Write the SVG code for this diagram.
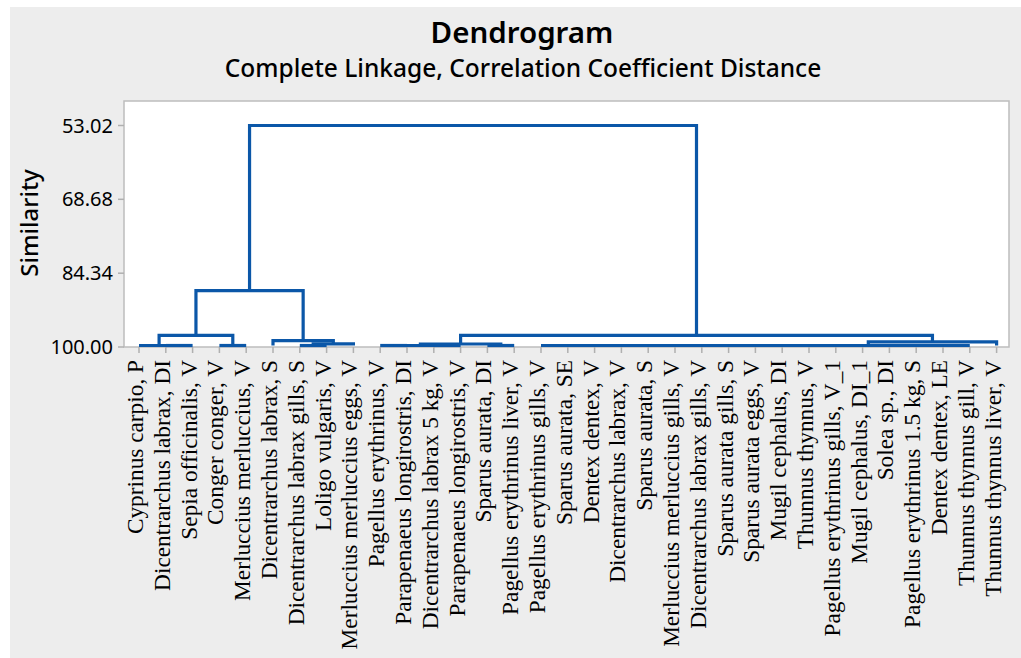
<svg xmlns="http://www.w3.org/2000/svg" width="1021" height="658" viewBox="0 0 1021 658">
<defs>
<style>
.bg{fill:#EDEDED}
.plot{fill:#FFFFFF;stroke:#BDBDBD;stroke-width:1.5}
.tick{stroke:#B0B0B0;stroke-width:1.5}
.den{fill:none;stroke:#0B57A8;stroke-width:3.2;stroke-linejoin:miter;stroke-linecap:butt}
.ttl{font-family:"Noto Sans","Open Sans",sans-serif;font-weight:600;font-size:29.5px;fill:#000;text-anchor:middle}
.sub{font-family:"Noto Sans","Open Sans",sans-serif;font-weight:500;font-size:24.5px;fill:#000;text-anchor:middle}
.yl{font-family:"Noto Sans","Open Sans",sans-serif;font-size:20px;fill:#000;text-anchor:end}
.yt{font-family:"Noto Sans","Open Sans",sans-serif;font-size:24px;font-weight:500;fill:#000;text-anchor:middle}
.lf{font-family:"Liberation Serif","Times New Roman",serif;font-size:23.3px;fill:#000;text-anchor:end}
</style>
</defs>
<rect class="bg" x="10" y="7" width="1011" height="651"/>
<g id="title">
<text class="ttl" x="522" y="43">Dendrogram</text>
<text class="sub" x="523" y="77">Complete Linkage, Correlation Coefficient Distance</text>
</g>
<g id="plot-area">
<rect class="plot" x="124" y="101" width="885" height="246"/>
</g>
<g id="y-axis">
<line class="tick" x1="118" y1="125.5" x2="124" y2="125.5"/>
<line class="tick" x1="118" y1="199.3" x2="124" y2="199.3"/>
<line class="tick" x1="118" y1="273.2" x2="124" y2="273.2"/>
<line class="tick" x1="118" y1="347" x2="124" y2="347"/>
<text class="yl" x="113" y="132.5">53.02</text>
<text class="yl" x="113" y="206.3">68.68</text>
<text class="yl" x="113" y="280.2">84.34</text>
<text class="yl" x="113" y="354">100.00</text>
<text class="yt" transform="translate(37.5,223) rotate(-90)">Similarity</text>
</g>
<g id="x-ticks">
<path class="tick" d="M139,347V353M165.8,347V353M192.6,347V353M219.4,347V353M246.2,347V353M273,347V353M299.8,347V353M326.6,347V353M353.4,347V353M380.2,347V353M407,347V353M433.8,347V353M460.6,347V353M487.4,347V353M514.2,347V353M541,347V353M567.8,347V353M594.6,347V353M621.4,347V353M648.2,347V353M675,347V353M701.8,347V353M728.6,347V353M755.4,347V353M782.2,347V353M809,347V353M835.8,347V353M862.6,347V353M889.4,347V353M916.2,347V353M943,347V353M969.8,347V353M996.6,347V353"/>
</g>
<g id="connectors">
<path class="den" d="M165.8,345.5H192.6"/>
<path class="den" d="M139,345.5H179.2"/>
<path class="den" d="M219.4,345.5H246.2"/>
<path class="den" d="M159.1,345.5V335.3H232.8V345.5"/>
<path class="den" d="M299.8,345.5H326.6"/>
<path class="den" d="M313.2,345.5V343.8H353.4V345.5"/>
<path class="den" d="M273,345.5V340.7H333.3V343.8"/>
<path class="den" d="M195.95,335.3V290.7H303.15V340.7"/>
<path class="den" d="M380.2,345.5H407"/>
<path class="den" d="M433.8,345.5H460.6"/>
<path class="den" d="M393.6,345.5H447.2"/>
<path class="den" d="M487.4,345.5H514.2"/>
<path class="den" d="M420.4,345.5V344H500.8V345.5"/>
<path class="den" d="M541,345.5H969.8"/>
<path class="den" d="M868.3,345.5V341.8H996.6V345.5"/>
<path class="den" d="M460.6,344V335.3H932.45V341.8"/>
<path class="den" d="M249.55,290.7V125.5H696.5V335.3"/>
</g>
<g id="leaf-labels">
<g id="leaf-1"><text class="lf" transform="translate(143,360) rotate(-90)">Cyprinus carpio,  P</text></g>
<g id="leaf-2"><text class="lf" transform="translate(169.8,360) rotate(-90)">Dicentrarchus labrax, DI</text></g>
<g id="leaf-3"><text class="lf" transform="translate(196.6,360) rotate(-90)">Sepia officinalis, V</text></g>
<g id="leaf-4"><text class="lf" transform="translate(223.4,360) rotate(-90)">Conger conger, V</text></g>
<g id="leaf-5"><text class="lf" transform="translate(250.2,360) rotate(-90)">Merluccius merluccius, V</text></g>
<g id="leaf-6"><text class="lf" transform="translate(277,360) rotate(-90)">Dicentrarchus labrax, S</text></g>
<g id="leaf-7"><text class="lf" transform="translate(303.8,360) rotate(-90)">Dicentrarchus labrax gills, S</text></g>
<g id="leaf-8"><text class="lf" transform="translate(330.6,360) rotate(-90)">Loligo vulgaris, V</text></g>
<g id="leaf-9"><text class="lf" transform="translate(357.4,360) rotate(-90)">Merluccius merluccius eggs, V</text></g>
<g id="leaf-10"><text class="lf" transform="translate(384.2,360) rotate(-90)">Pagellus erythrinus, V</text></g>
<g id="leaf-11"><text class="lf" transform="translate(411,360) rotate(-90)">Parapenaeus longirostris, DI</text></g>
<g id="leaf-12"><text class="lf" transform="translate(437.8,360) rotate(-90)">Dicentrarchus labrax 5 kg, V</text></g>
<g id="leaf-13"><text class="lf" transform="translate(464.6,360) rotate(-90)">Parapenaeus longirostris, V</text></g>
<g id="leaf-14"><text class="lf" transform="translate(491.4,360) rotate(-90)">Sparus aurata, DI</text></g>
<g id="leaf-15"><text class="lf" transform="translate(518.2,360) rotate(-90)">Pagellus erythrinus liver, V</text></g>
<g id="leaf-16"><text class="lf" transform="translate(545,360) rotate(-90)">Pagellus erythrinus gills, V</text></g>
<g id="leaf-17"><text class="lf" transform="translate(571.8,360) rotate(-90)">Sparus aurata, SE</text></g>
<g id="leaf-18"><text class="lf" transform="translate(598.6,360) rotate(-90)">Dentex dentex, V</text></g>
<g id="leaf-19"><text class="lf" transform="translate(625.4,360) rotate(-90)">Dicentrarchus labrax, V</text></g>
<g id="leaf-20"><text class="lf" transform="translate(652.2,360) rotate(-90)">Sparus aurata, S</text></g>
<g id="leaf-21"><text class="lf" transform="translate(679,360) rotate(-90)">Merluccius merluccius gills, V</text></g>
<g id="leaf-22"><text class="lf" transform="translate(705.8,360) rotate(-90)">Dicentrarchus labrax gills, V</text></g>
<g id="leaf-23"><text class="lf" transform="translate(732.6,360) rotate(-90)">Sparus aurata gills, S</text></g>
<g id="leaf-24"><text class="lf" transform="translate(759.4,360) rotate(-90)">Sparus aurata eggs, V</text></g>
<g id="leaf-25"><text class="lf" transform="translate(786.2,360) rotate(-90)">Mugil cephalus, DI</text></g>
<g id="leaf-26"><text class="lf" transform="translate(813,360) rotate(-90)">Thunnus thynnus, V</text></g>
<g id="leaf-27"><text class="lf" transform="translate(839.8,360) rotate(-90)">Pagellus erythrinus gills, V_1</text></g>
<g id="leaf-28"><text class="lf" transform="translate(866.6,360) rotate(-90)">Mugil cephalus, DI_1</text></g>
<g id="leaf-29"><text class="lf" transform="translate(893.4,360) rotate(-90)">Solea sp., DI</text></g>
<g id="leaf-30"><text class="lf" transform="translate(920.2,360) rotate(-90)">Pagellus erythrinus 1.5 kg, S</text></g>
<g id="leaf-31"><text class="lf" transform="translate(947,360) rotate(-90)">Dentex dentex, LE</text></g>
<g id="leaf-32"><text class="lf" transform="translate(973.8,360) rotate(-90)">Thunnus thynnus gill, V</text></g>
<g id="leaf-33"><text class="lf" transform="translate(1000.6,360) rotate(-90)">Thunnus thynnus liver, V</text></g>
</g>
</svg>
